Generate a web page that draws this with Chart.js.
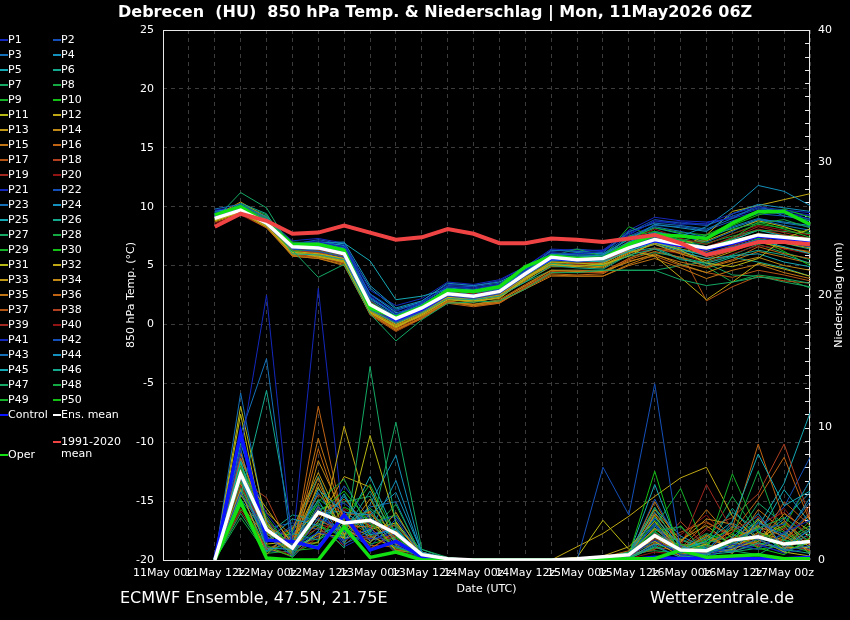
<!DOCTYPE html>
<html>
<head>
<meta charset="utf-8">
<script src="https://cdn.jsdelivr.net/npm/chart.js@4.4.1/dist/chart.umd.min.js"></script>
<style>
  body { margin: 0; background: #000; overflow: hidden; font-family: "DejaVu Sans", sans-serif; }
  #wrap { position: relative; width: 850px; height: 620px; }
  #chart { position: absolute; left: 0; top: 0; }
  .txt { position: absolute; color: #fff; white-space: pre; }
  #title { left: 118px; top: 2px; font-size: 16px; font-weight: bold; }
  #foot1 { left: 120px; top: 588px; font-size: 16px; }
  #foot2 { left: 650px; top: 588px; font-size: 16px; }
  .leg { position: absolute; color: #fff; font-size: 11px; line-height: 12px; white-space: pre; }
  .sw { position: absolute; width: 8px; height: 2px; }
</style>
</head>
<body>
<div id="wrap">
  <canvas id="chart" width="850" height="620"></canvas>
  <div class="txt" id="title">Debrecen  (HU)  850 hPa Temp. &amp; Niederschlag | Mon, 11May2026 06Z</div>
  <div class="txt" id="foot1">ECMWF Ensemble, 47.5N, 21.75E</div>
  <div class="txt" id="foot2">Wetterzentrale.de</div>
  <div id="legend"></div>
</div>
<script>
// zeitachse (6-stündlich), beschriftet wird nur 00z / 12z
const xLabels = ['11May 00z','11May 06z','11May 12z','11May 18z','12May 00z','12May 06z','12May 12z','12May 18z',
  '13May 00z','13May 06z','13May 12z','13May 18z','14May 00z','14May 06z','14May 12z','14May 18z',
  '15May 00z','15May 06z','15May 12z','15May 18z','16May 00z','16May 06z','16May 12z','16May 18z',
  '17May 00z','17May 06z'];
const leadNulls = 2; // daten beginnen bei 11May 12z

const tempTicks = [-20, -15, -10, -5, 0, 5, 10, 15, 20, 25];
const precipTicks = [0, 10, 20, 30, 40];

// farben der member (wiederholen sich alle 20)
const memberColors = ['#1428bc','#1450b8','#1470b8','#1490bc','#14a8b4','#14a88c','#14a864','#14a844','#14b028','#14c014',
  '#b8b814','#c0a814','#c09814','#c08814','#c07414','#c06414','#b45414','#b04020','#a02820','#901414'];

// 850 hPa temperatur (°C)
const tMean = [9.0,9.7,8.6,6.6,6.5,6.0,1.7,0.5,1.4,2.6,2.4,2.8,4.3,5.7,5.5,5.6,6.5,7.2,6.8,6.5,7.0,7.6,7.4,7.2];
const tOper = [9.3,10.0,8.6,6.8,6.8,6.3,1.4,0.6,1.5,2.9,2.8,3.2,4.9,5.8,5.6,5.6,6.8,7.6,7.5,7.3,8.6,9.6,9.6,8.5];
const tControl = [9.1,9.8,8.6,6.6,6.5,6.0,1.6,0.4,1.3,2.6,2.4,2.8,4.3,5.6,5.5,5.6,6.5,7.1,6.7,6.4,6.9,7.5,7.3,7.1];
const tClim = [8.3,9.4,8.8,7.7,7.8,8.4,7.8,7.2,7.4,8.1,7.7,6.9,6.9,7.3,7.2,7.0,7.3,7.6,6.9,5.9,6.4,7.0,7.0,6.8];

const tP1 = [9.5,9.8,8.5,6.9,7.0,6.6,2.4,0.9,1.9,3.2,3.1,3.4,4.6,6.1,6.0,6.2,7.6,8.8,8.5,8.6,9.4,10.0,9.7,9.5];
const tP2 = [9.3,10.0,8.8,6.4,6.2,5.7,1.3,0.2,1.1,2.4,2.2,2.6,4.1,5.6,5.3,5.5,6.6,7.4,6.9,6.1,6.6,7.2,7.0,6.6];
const tP3 = [9.8,10.2,9.1,6.7,6.8,6.3,2.1,0.6,1.6,2.9,2.7,3.0,4.5,6.3,6.2,6.1,7.9,8.6,8.4,8.1,9.0,10.1,9.2,8.8];
const tP4 = [9.6,9.9,8.9,6.5,6.9,7.0,3.3,1.4,2.0,3.5,3.3,3.6,4.7,5.9,5.7,5.9,7.0,7.8,7.5,8.3,9.9,11.8,11.3,10.1];
const tP5 = [9.2,9.6,8.7,6.8,6.6,6.9,5.4,2.1,2.4,3.0,2.9,3.1,4.4,5.4,5.5,5.3,6.2,7.0,6.4,5.8,6.3,7.1,6.6,6.0];
const tP6 = [9.0,10.3,9.4,6.0,5.9,5.5,1.2,0.1,1.0,2.2,2.1,2.4,3.6,5.0,4.8,4.7,5.9,6.4,5.5,5.2,5.8,6.3,5.9,5.2];
const tP7 = [8.9,11.2,9.9,6.3,4.0,5.1,0.9,-1.4,0.4,1.8,1.9,2.0,3.0,4.4,4.4,4.6,4.6,4.6,3.8,3.3,3.6,4.0,3.9,3.5];
const tP8 = [9.1,10.1,9.0,7.0,6.9,6.4,1.9,0.6,1.3,2.6,2.3,2.9,4.8,5.8,6.4,5.8,6.9,7.8,7.1,7.6,8.1,8.6,8.9,8.2];
const tP9 = [9.4,9.8,8.5,6.2,6.4,6.1,1.5,0.3,1.2,2.5,2.4,2.7,4.2,5.6,5.6,5.7,8.3,7.4,7.2,6.4,7.3,8.7,8.1,7.4];
const tP10 = [9.0,9.9,8.9,6.6,6.7,6.2,1.6,0.7,1.5,2.7,2.5,2.8,4.3,5.7,5.4,5.6,6.4,7.5,7.6,7.2,8.4,9.3,9.8,9.1];
const tP11 = [8.8,9.5,8.3,6.1,5.8,5.3,1.0,-0.2,0.8,2.1,2.0,2.2,3.9,5.3,5.2,5.1,5.8,7.0,6.3,5.2,4.9,5.6,7.3,8.1];
const tP12 = [8.9,9.7,8.4,5.9,6.0,5.6,1.4,0.0,1.0,2.3,2.1,2.5,4.0,5.1,4.9,5.2,6.3,5.8,4.0,2.1,3.6,5.2,4.7,4.1];
const tP13 = [9.1,9.6,8.6,6.2,5.7,5.4,1.1,-0.3,0.9,2.2,1.9,2.3,3.9,5.0,5.0,4.9,6.1,6.8,6.0,5.4,6.2,7.0,6.5,6.1];
const tP14 = [9.2,10.4,9.1,6.1,5.9,5.5,1.2,-0.1,0.7,1.9,1.7,2.0,3.3,4.6,4.5,4.5,5.3,6.0,5.1,4.4,5.2,5.7,5.0,4.6];
const tP15 = [8.7,9.4,8.2,5.8,5.6,5.0,0.9,-0.5,0.6,2.0,1.6,1.9,3.0,4.1,4.1,4.1,5.0,5.6,4.8,3.9,4.6,5.1,4.4,3.9];
const tP16 = [8.9,9.5,8.3,6.0,5.8,5.2,1.0,-0.4,0.5,1.8,1.5,1.8,3.2,4.3,4.2,4.3,5.5,6.2,5.7,4.9,5.5,6.6,6.0,5.6];
const tP17 = [9.0,9.6,8.5,5.9,5.7,5.3,0.8,-0.6,0.5,1.9,1.6,1.8,3.1,4.5,4.4,4.4,5.6,6.5,6.2,2.0,3.2,4.1,3.7,3.5];
const tP18 = [9.2,9.9,8.7,6.3,6.1,5.8,1.7,0.3,1.2,2.5,2.2,2.6,4.0,5.3,5.2,5.3,6.4,7.0,6.6,6.3,6.9,7.6,7.1,6.7];
const tP19 = [9.3,10.0,8.9,6.4,6.3,5.9,1.5,0.1,1.1,2.4,2.3,2.7,4.2,5.5,5.4,5.5,6.7,7.6,7.0,6.5,7.4,8.3,7.8,7.3];
const tP20 = [9.1,9.8,8.6,6.5,6.6,6.2,2.0,0.6,1.5,2.8,2.6,2.9,4.4,5.6,5.7,5.6,7.1,8.1,7.3,6.8,7.7,8.4,8.0,7.6];
const tP21 = [9.6,10.1,9.0,7.1,7.3,6.9,2.9,1.6,2.2,3.6,3.4,3.8,4.9,6.4,6.3,6.3,8.0,9.1,8.8,8.7,9.0,9.6,9.4,9.2];
const tP22 = [9.4,9.9,8.8,6.8,7.2,6.8,2.6,1.2,1.8,3.3,3.2,3.5,4.7,6.2,6.4,6.2,7.8,8.9,8.6,8.4,9.2,9.9,9.6,8.9];
const tP23 = [9.2,9.7,8.6,6.6,6.8,6.5,2.3,0.8,1.7,3.0,2.8,3.2,4.5,6.0,5.9,5.8,7.4,8.3,7.9,7.4,8.3,9.0,8.6,8.3];
const tP24 = [9.5,10.0,8.9,6.7,7.0,6.7,3.1,1.3,1.9,3.1,2.9,3.3,4.6,5.9,6.1,6.0,7.2,8.5,8.2,7.9,9.4,10.2,9.9,9.6];
const tP25 = [9.3,9.9,9.0,6.6,6.7,6.4,2.6,1.0,1.4,2.8,2.6,2.9,4.3,5.6,5.6,5.7,6.3,6.8,6.2,5.6,5.8,6.0,5.3,4.9];
const tP26 = [9.1,9.8,8.8,6.3,6.4,6.0,1.8,0.4,1.3,2.6,2.5,2.8,4.1,5.5,5.3,5.4,6.2,6.5,5.6,5.0,5.7,5.3,4.8,4.1];
const tP27 = [9.0,10.0,9.2,6.4,6.2,5.8,1.6,0.2,1.2,2.5,2.4,2.6,3.9,5.2,5.0,5.0,5.8,6.1,5.7,5.2,4.2,4.1,3.6,3.2];
const tP28 = [9.2,10.2,9.3,6.5,6.5,6.1,1.7,0.5,1.3,2.6,2.5,2.9,4.4,5.7,5.5,5.6,6.9,7.7,7.2,6.9,7.5,8.0,7.9,7.7];
const tP29 = [9.4,10.1,9.1,6.7,6.6,6.3,1.9,0.6,1.5,2.8,2.6,3.0,4.5,5.8,5.7,5.8,7.3,8.2,7.8,7.6,8.6,9.5,9.4,8.8];
const tP30 = [9.3,10.0,8.9,6.5,6.3,5.9,1.5,0.4,1.2,2.5,2.3,2.7,4.0,5.4,5.4,5.5,7.5,7.9,7.3,6.0,6.3,7.3,6.2,5.0];
const tP31 = [9.0,9.7,8.5,6.2,6.0,5.6,1.3,0.2,1.1,2.4,2.2,2.6,4.1,5.5,5.4,5.3,6.6,7.3,7.0,7.1,8.0,8.8,8.3,7.6];
const tP32 = [8.8,9.6,8.4,6.0,5.9,5.4,1.1,-0.1,0.9,2.2,2.0,2.4,3.8,5.1,5.0,5.0,6.2,7.0,6.5,7.6,9.6,10.1,10.6,11.1];
const tP33 = [8.9,9.6,8.5,6.1,5.9,5.4,1.2,-0.2,0.8,2.1,1.9,2.3,3.7,4.9,4.9,4.8,6.0,6.9,6.4,6.0,6.6,7.2,6.9,6.5];
const tP34 = [9.1,9.8,8.6,6.2,6.1,5.6,1.3,0.0,1.0,2.3,2.1,2.4,3.8,5.2,5.0,5.1,6.4,7.3,6.7,6.2,7.1,7.7,7.3,6.9];
const tP35 = [8.8,9.5,8.3,5.8,5.6,5.1,0.9,-0.5,0.5,1.9,1.6,1.9,3.1,4.2,4.1,4.1,5.1,5.9,5.3,4.8,5.4,6.2,5.7,5.2];
const tP36 = [9.0,9.7,8.6,6.0,5.8,5.3,1.0,-0.3,0.7,2.0,1.7,2.1,3.4,4.6,4.6,4.5,5.6,6.4,6.1,5.6,6.3,7.0,6.5,6.2];
const tP37 = [8.9,9.5,8.4,5.9,5.7,5.2,0.9,-0.4,0.6,1.9,1.7,2.0,3.3,4.4,4.5,4.4,5.4,5.8,5.0,4.4,4.0,4.6,4.2,3.7];
const tP38 = [9.1,9.8,8.7,6.3,6.2,5.7,1.5,0.2,1.1,2.3,2.1,2.5,3.9,5.3,5.1,5.2,6.5,7.1,6.6,6.0,6.7,7.4,7.0,6.6];
const tP39 = [9.2,9.9,8.8,6.4,6.4,5.9,1.6,0.3,1.2,2.5,2.3,2.6,4.1,5.4,5.3,5.4,6.6,7.2,6.9,6.6,7.3,8.1,7.6,7.1];
const tP40 = [8.6,9.3,8.2,6.1,6.0,5.5,1.3,0.1,1.0,2.4,2.2,2.5,3.9,5.2,5.0,5.0,6.1,6.4,6.0,5.2,6.0,6.7,6.4,6.0];
const tP41 = [9.7,10.0,8.9,6.9,7.1,6.7,2.5,1.1,2.0,3.4,3.3,3.7,4.9,6.3,6.2,6.3,7.7,8.7,8.7,8.5,9.1,9.8,9.6,9.3];
const tP42 = [9.5,10.1,9.0,6.8,6.9,6.6,2.3,0.9,1.8,3.2,3.0,3.4,4.7,6.0,6.0,6.0,7.5,8.4,8.3,8.0,8.8,9.4,9.2,9.0];
const tP43 = [9.3,9.9,8.8,6.6,6.7,6.3,2.0,0.7,1.6,2.9,2.7,3.1,4.4,5.8,5.8,5.7,7.0,7.9,7.5,7.0,7.9,8.9,8.4,8.0];
const tP44 = [9.4,10.0,8.9,6.7,6.8,6.5,2.2,0.8,1.7,3.0,2.9,3.2,4.5,5.9,5.9,5.9,7.3,8.2,7.7,7.3,8.2,8.9,8.7,8.4];
const tP45 = [9.2,9.8,8.7,6.5,6.5,6.2,1.8,0.5,1.4,2.7,2.6,2.9,4.3,5.7,5.6,5.6,6.8,7.6,7.1,6.6,7.2,8.0,7.5,7.1];
const tP46 = [9.1,9.7,8.7,6.4,6.4,6.0,1.6,0.4,1.3,2.6,2.4,2.8,4.2,5.5,5.4,5.5,6.5,6.9,6.3,5.9,6.5,7.3,6.9,6.4];
const tP47 = [9.2,10.0,8.9,6.5,6.3,5.9,1.4,0.2,1.1,2.4,2.2,2.5,3.6,4.6,4.6,4.6,4.6,4.6,5.0,5.3,5.9,6.8,6.1,5.5];
const tP48 = [9.3,10.1,9.0,6.6,6.5,6.0,1.5,0.3,1.2,2.5,2.3,2.7,4.2,5.6,5.5,5.6,6.7,7.4,7.0,4.9,3.6,4.2,3.9,3.1];
const tP49 = [9.1,9.9,8.8,6.5,6.4,6.0,1.7,0.5,1.4,2.7,2.5,2.8,4.3,5.6,5.5,5.6,6.8,7.5,7.1,6.8,7.7,8.5,8.2,7.8];
const tP50 = [9.0,9.8,8.7,6.4,6.3,5.9,1.6,0.4,1.3,2.6,2.4,2.7,4.2,5.5,5.4,5.5,6.6,7.3,6.9,6.5,7.2,8.0,7.6,7.3];

// niederschlag pro 6h (mm)
const pMean = [0,6.5,2.3,0.9,3.6,2.8,3.0,2.0,0.4, 0.1,0,0,0,0, 0.1,0.25,0.4,1.85,0.75,0.7,1.5,1.75,1.2,1.4];
const pOper = [0,4.4,0.15,0,0,2.5,0.2,0.6,0, 0,0,0,0,0, 0,0.05,0.1,0.1,0.75,0.2,0.3,0.4,0.1,0.1];
const pControl = [0,9.6,1.5,1.4,0.9,3.4,0.75,1.4,0.25, 0,0,0,0,0, 0,0,0,0.2,0.1,0.1,0.1,0.1,0.1,0.2];

const pP1 = [0,8.2,20.0,1.0,2.1,1.5,2.4,0.6,0.2, 0,0,0,0,0, 0,0.1,0.3,1.5,0.4,0.2,1.2,0.8,2.1,3.0];
const pP2 = [0,5.1,1.8,0.3,3.2,2.2,1.0,3.1,0.3, 0,0,0,0,0, 0,7.0,3.4,13.3,0.6,0.5,0.9,1.6,0.7,1.1];
const pP3 = [0,9.5,15.2,0.5,4.1,1.2,2.2,1.0,0.4, 0,0,0,0,0, 0,0.2,0.4,2.6,0.3,0.9,0.6,2.8,1.9,4.4];
const pP4 = [0,6.2,0.9,0.8,5.3,3.6,3.4,5.1,0.6, 0.1,0,0,0,0, 0,0,0.5,3.2,1.1,0.3,1.7,3.5,0.9,2.3];
const pP5 = [0,7.4,1.4,3.1,2.6,4.8,1.9,2.3,0.2, 0,0,0,0,0, 0,0.1,0.2,1.2,0.8,1.4,2.9,8.0,4.1,5.2];
const pP6 = [0,4.8,12.8,2.0,1.5,2.7,3.8,1.4,0.5, 0,0,0,0,0, 0,0,0.1,1.0,0.2,0.4,0.6,1.3,0.8,0.5];
const pP7 = [0,3.5,0.6,1.5,2.8,0.9,14.6,2.6,0.8, 0.2,0,0,0,0, 0,0,0.3,4.0,0.5,1.1,0.7,0.4,1.5,0.9];
const pP8 = [0,5.9,2.3,0.4,4.4,6.1,2.1,4.2,0.3, 0,0,0,0,0, 0,0.2,0.6,2.2,2.5,0.6,1.3,2.4,3.2,1.8];
const pP9 = [0,7.0,3.3,0.7,0.9,3.1,5.7,1.8,0.1, 0,0,0,0,0, 0,0,0.2,0.9,1.2,0.8,6.5,2.1,1.2,0.6];
const pP10 = [0,4.1,1.1,0.2,3.6,5.2,2.8,0.9,0.4, 0,0,0,0,0, 0,0.1,0.4,6.7,0.4,0.3,2.0,0.9,0.4,1.7];
const pP11 = [0,11.6,2.7,0.6,2.0,1.7,9.4,2.9,0.2, 0,0,0,0,0, 0.2,3.0,0.8,1.4,0.3,0.5,0.8,1.6,0.6,0.3];
const pP12 = [0,6.6,3.9,1.2,1.3,10.1,3.2,0.7,0.6, 0,0,0,0,0, 0,0.3,1.0,2.9,0.6,1.2,0.5,3.1,0.9,1.0];
const pP13 = [0,5.3,0.4,2.3,6.6,2.4,1.3,3.6,0.3, 0.1,0,0,0,0, 0,0.2,0.3,3.8,1.5,2.6,1.1,1.7,2.6,0.4];
const pP14 = [0,8.1,2.0,0.5,5.8,1.9,4.6,1.2,0.5, 0,0,0,0,0, 0,0,0.4,2.4,0.7,1.9,0.9,1.4,3.5,2.2];
const pP15 = [0,6.8,1.6,0.9,9.2,3.0,0.8,2.2,0.4, 0,0,0,0,0, 0,0.1,0.2,3.5,1.3,3.8,1.6,2.5,1.8,0.7];
const pP16 = [0,7.7,2.9,0.3,11.6,2.6,2.5,0.5,0.1, 0,0,0,0,0, 0,0.2,0.7,1.8,0.5,0.6,2.4,8.75,3.0,1.2];
const pP17 = [0,4.4,0.8,1.7,4.9,3.4,3.6,1.6,0.2, 0,0,0,0,0, 0,0,0.1,1.3,0.9,2.8,1.9,1.1,4.4,2.6];
const pP18 = [0,6.1,4.7,0.6,3.1,2.0,1.7,2.7,0.3, 0,0,0,0,0, 0,0.1,0.3,0.8,2.9,1.0,0.7,2.0,1.4,3.5];
const pP19 = [0,5.6,2.2,1.3,2.4,1.1,2.9,0.8,0.5, 0,0,0,0,0, 0,0,0.2,1.6,1.0,5.7,2.2,3.3,1.0,0.8];
const pP20 = [0,3.9,1.0,0.4,1.7,3.8,0.9,1.9,0.2, 0,0,0,0,0, 0,0,0.1,0.6,0.4,2.3,1.4,1.8,3.9,1.5];
const pP21 = [0,7.9,3.5,1.0,20.5,2.3,1.6,2.0,0.4, 0,0,0,0,0, 0,0.1,0.2,1.9,0.3,0.2,0.9,1.2,0.5,0.9];
const pP22 = [0,6.4,1.3,2.6,3.4,4.3,2.7,3.3,0.6, 0.1,0,0,0,0, 0,0,0.3,2.7,0.6,0.4,1.5,2.3,2.7,6.0];
const pP23 = [0,12.6,2.4,0.9,1.8,2.9,3.3,1.1,0.2, 0,0,0,0,0, 0,0.2,0.1,1.1,0.2,0.7,2.6,1.5,0.8,2.0];
const pP24 = [0,5.2,0.7,1.9,4.5,1.4,4.2,7.9,0.5, 0,0,0,0,0, 0,0.1,0.6,3.9,1.8,0.9,1.0,2.9,1.7,4.7];
const pP25 = [0,8.8,3.0,0.2,2.2,5.0,1.4,2.4,0.3, 0,0,0,0,0, 0,0,0.4,5.7,0.7,0.5,1.2,1.9,5.3,2.8];
const pP26 = [0,4.6,1.9,3.4,3.0,2.1,5.2,1.5,0.6, 0,0,0,0,0, 0,0.1,0.2,2.1,0.9,1.7,3.6,2.2,0.6,1.4];
const pP27 = [0,6.9,2.6,1.1,1.1,3.5,2.0,10.4,0.8, 0.1,0,0,0,0, 0,0,0.3,1.4,1.6,0.8,0.6,0.9,2.0,0.5];
const pP28 = [0,3.2,0.5,0.7,2.5,1.8,3.9,2.5,0.1, 0,0,0,0,0, 0,0.2,0.5,0.7,0.5,1.3,1.8,6.7,1.3,2.4];
const pP29 = [0,5.5,1.5,2.2,4.2,2.8,1.2,1.7,0.4, 0,0,0,0,0, 0,0,0.1,2.5,5.4,0.6,1.1,0.8,1.1,1.9];
const pP30 = [0,7.3,2.8,0.5,1.4,4.0,3.0,0.6,0.2, 0,0,0,0,0, 0,0.1,0.3,3.0,0.8,1.5,2.3,1.4,2.5,6.0];
const pP31 = [0,11.0,1.2,1.4,5.5,1.6,2.3,2.8,0.5, 0,0,0,0,0, 0,0,0.2,1.7,0.4,0.7,1.4,2.6,0.7,1.3];
const pP32 = [0,4.9,2.1,0.8,2.9,6.3,5.5,1.3,0.3, 0,0,0,0,0, 1.0,2.0,3.3,4.8,6.2,7.0,3.3,1.5,2.9,0.9];
const pP33 = [0,6.3,3.6,1.8,3.7,2.7,1.8,0.9,0.4, 0,0,0,0,0, 0,0.1,0.2,3.4,0.6,1.8,0.8,2.1,1.5,3.4];
const pP34 = [0,5.8,0.9,0.3,7.5,3.3,2.6,2.1,0.2, 0,0,0,0,0, 0,0,0.4,2.3,1.4,3.1,2.7,1.2,0.9,1.6];
const pP35 = [0,7.1,2.5,1.6,6.2,1.3,3.5,1.4,0.6, 0.1,0,0,0,0, 0,0.1,0.3,4.4,0.9,1.6,1.0,3.8,2.2,0.6];
const pP36 = [0,4.2,1.7,0.6,8.4,2.5,1.1,1.0,0.3, 0,0,0,0,0, 0,0,0.1,2.0,1.1,1.3,2.1,4.6,7.75,2.9];
const pP37 = [0,6.0,1.4,2.4,3.3,4.6,2.4,2.6,0.4, 0,0,0,0,0, 0,0.2,0.6,1.2,2.1,2.9,1.7,1.0,1.8,4.1];
const pP38 = [0,5.0,2.6,0.9,4.0,1.5,3.7,0.7,0.2, 0,0,0,0,0, 0,0.1,0.4,0.9,0.8,2.4,3.2,5.0,8.75,3.2];
const pP39 = [0,3.7,0.8,1.3,2.7,2.2,1.5,1.8,0.5, 0,0,0,0,0, 0,0,0.2,1.5,0.5,1.1,0.6,1.4,2.4,1.1];
const pP40 = [0,5.7,3.2,0.4,1.9,3.9,2.6,1.2,0.3, 0,0,0,0,0, 0,0,0.3,0.8,1.9,3.4,1.2,2.7,3.6,1.8];
const pP41 = [0,9.1,1.6,1.1,3.9,1.0,2.0,2.3,0.4, 0,0,0,0,0, 0,0.1,0.5,3.1,0.6,0.8,0.7,1.1,0.6,2.5];
const pP42 = [0,6.7,2.4,2.8,2.3,5.6,3.1,1.5,0.6, 0,0,0,0,0, 0,0,0.2,4.6,1.0,0.5,1.5,2.3,4.0,7.75];
const pP43 = [0,8.4,0.7,0.6,5.1,2.0,4.0,4.4,0.2, 0,0,0,0,0, 0,0.2,0.4,2.8,0.3,1.6,0.9,3.2,1.6,3.6];
const pP44 = [0,5.4,1.9,1.5,3.5,3.7,2.2,6.0,0.5, 0.1,0,0,0,0, 0,0,0.6,3.6,1.2,0.7,2.8,1.7,3.1,5.1];
const pP45 = [0,7.6,3.1,0.7,2.1,2.4,6.3,1.9,0.3, 0,0,0,0,0, 0,0.1,0.2,1.9,0.4,1.0,1.3,2.5,5.8,11.1];
const pP46 = [0,4.3,0.6,2.1,6.3,1.7,1.6,2.7,0.4, 0,0,0,0,0, 0,0,0.3,2.4,1.5,0.9,3.9,1.6,1.2,2.2];
const pP47 = [0,6.2,1.8,0.5,3.8,4.4,4.8,1.1,0.2, 0,0,0,0,0, 0,0.1,0.2,1.6,0.9,2.0,1.3,4.3,2.7,1.4];
const pP48 = [0,5.0,2.7,1.2,1.6,2.9,2.8,3.4,0.6, 0,0,0,0,0, 0,0,0.4,3.3,0.7,1.4,4.8,2.0,0.8,3.0];
const pP49 = [0,7.5,1.0,0.8,4.6,3.2,1.9,0.8,0.3, 0,0,0,0,0, 0,0.2,0.1,1.0,2.6,0.5,1.6,3.0,2.1,1.0];
const pP50 = [0,3.8,2.0,1.9,2.6,1.9,3.4,2.2,0.5, 0,0,0,0,0, 0,0,0.3,2.2,0.6,1.2,2.5,1.2,1.5,2.6];

const tMembers = [tP1,tP2,tP3,tP4,tP5,tP6,tP7,tP8,tP9,tP10,tP11,tP12,tP13,tP14,tP15,tP16,tP17,tP18,tP19,tP20,
  tP21,tP22,tP23,tP24,tP25,tP26,tP27,tP28,tP29,tP30,tP31,tP32,tP33,tP34,tP35,tP36,tP37,tP38,tP39,tP40,
  tP41,tP42,tP43,tP44,tP45,tP46,tP47,tP48,tP49,tP50];
const pMembers = [pP1,pP2,pP3,pP4,pP5,pP6,pP7,pP8,pP9,pP10,pP11,pP12,pP13,pP14,pP15,pP16,pP17,pP18,pP19,pP20,
  pP21,pP22,pP23,pP24,pP25,pP26,pP27,pP28,pP29,pP30,pP31,pP32,pP33,pP34,pP35,pP36,pP37,pP38,pP39,pP40,
  pP41,pP42,pP43,pP44,pP45,pP46,pP47,pP48,pP49,pP50];

const colControl = '#0a14ff';
const colMean = '#ffffff';
const colOper = '#12e012';
const colClim = '#f04444';

function pad(arr) {
  const out = [];
  for (let i = 0; i < leadNulls; i++) out.push(null);
  return out.concat(arr);
}

function line(data, color, width, axis) {
  return { data: pad(data), borderColor: color, borderWidth: width, yAxisID: axis,
    pointRadius: 0, tension: 0, fill: false, spanGaps: false };
}

// dicke linien zuerst -> liegen oben
const datasets = [
  line(tClim, colClim, 4, 'y'),
  line(tMean, colMean, 3.5, 'y'),
  line(pMean, colMean, 3.5, 'y2'),
  line(tOper, colOper, 3.5, 'y'),
  line(pOper, colOper, 3.5, 'y2'),
  line(tControl, colControl, 3.5, 'y'),
  line(pControl, colControl, 3.5, 'y2'),
];
tMembers.forEach((d, i) => datasets.push(line(d, memberColors[i % 20], 1, 'y')));
pMembers.forEach((d, i) => datasets.push(line(d, memberColors[i % 20], 1, 'y2')));

const tickFont = { family: 'DejaVu Sans', size: 11 };
const gridCol = '#3c3c3c';

// rahmen, kleine striche an der rechten achse und deren titel
const frame = {
  id: 'frame',
  beforeDatasetsDraw(chart) {
    const a = chart.chartArea;
    const c = chart.ctx;
    const y2 = chart.scales.y2;
    c.save();
    c.strokeStyle = '#e8e8e8';
    c.lineWidth = 1;
    c.strokeRect(a.left + 0.5, a.top + 0.5, a.right - a.left - 1, a.bottom - a.top);
    for (let v = y2.min; v <= y2.max; v++) {
      const py = Math.round(y2.getPixelForValue(v)) + 0.5;
      c.beginPath();
      c.moveTo(a.right - 5, py);
      c.lineTo(a.right, py);
      c.stroke();
    }
    // titel der rechten achse, von unten nach oben gelesen
    c.translate(839, (a.top + a.bottom) / 2);
    c.rotate(-Math.PI / 2);
    c.fillStyle = '#fff';
    c.font = '11px "DejaVu Sans"';
    c.textAlign = 'center';
    c.textBaseline = 'middle';
    c.fillText('Niederschlag (mm)', 0, 0);
    c.restore();
  }
};

new Chart(document.getElementById('chart'), {
  type: 'line',
  data: { labels: xLabels, datasets: datasets },
  plugins: [frame],
  options: {
    responsive: false,
    animation: false,
    devicePixelRatio: 1,
    layout: { padding: { left: 118, right: 2, top: 30, bottom: 20 } },
    plugins: { legend: { display: false }, tooltip: { enabled: false } },
    scales: {
      x: {
        type: 'category',
        offset: false,
        grid: { color: gridCol, drawTicks: false },
        border: { display: false, dash: [4, 4] },
        ticks: {
          color: '#fff', font: tickFont, padding: 7, autoSkip: false, maxRotation: 0, minRotation: 0,
          callback: function (v, i) { return i % 2 === 0 ? this.getLabelForValue(v) : ''; }
        },
        title: { display: true, text: 'Date (UTC)', color: '#fff', font: tickFont, padding: { top: 2, bottom: 4 } },
        afterFit: s => { s.height = 40; }
      },
      y: {
        position: 'left',
        min: tempTicks[0], max: tempTicks[tempTicks.length - 1],
        afterBuildTicks: s => { s.ticks = tempTicks.map(v => ({ value: v })); },
        grid: { color: gridCol, drawTicks: false },
        border: { display: false, dash: [4, 4] },
        ticks: { color: '#fff', font: tickFont, padding: 9 },
        title: { display: true, text: '850 hPa Temp. (°C)', color: '#fff', font: tickFont, padding: { top: 7, bottom: 0 } },
        afterFit: s => { s.width = 45; }
      },
      y2: {
        position: 'right',
        min: precipTicks[0], max: precipTicks[precipTicks.length - 1],
        afterBuildTicks: s => { s.ticks = precipTicks.map(v => ({ value: v })); },
        grid: { drawOnChartArea: false, drawTicks: false },
        border: { display: false },
        ticks: { color: '#fff', font: tickFont, padding: 8 },
        title: { display: false },
        afterFit: s => { s.width = 38; }
      }
    }
  }
});

// legende: zwei spalten, zeilen mit 15px abstand
const legend = document.getElementById('legend');
function legItem(x, yc, color, text) {
  const sw = document.createElement('div');
  sw.className = 'sw';
  sw.style.left = x + 'px';
  sw.style.top = (yc - 1) + 'px';
  sw.style.background = color;
  legend.appendChild(sw);
  const t = document.createElement('div');
  t.className = 'leg';
  t.style.left = (x + 8) + 'px';
  t.style.top = (yc - 6) + 'px';
  t.textContent = text;
  legend.appendChild(t);
}
const colX = [0, 53];
for (let i = 0; i < 50; i++) {
  legItem(colX[i % 2], 40 + Math.floor(i / 2) * 15, memberColors[i % 20], 'P' + (i + 1));
}
legItem(colX[0], 415, colControl, 'Control');
legItem(colX[1], 415, colMean, 'Ens. mean');
legItem(colX[1], 442, colClim, '1991-2020\nmean');
legItem(colX[0], 455, colOper, 'Oper');
</script>
</body>
</html>
